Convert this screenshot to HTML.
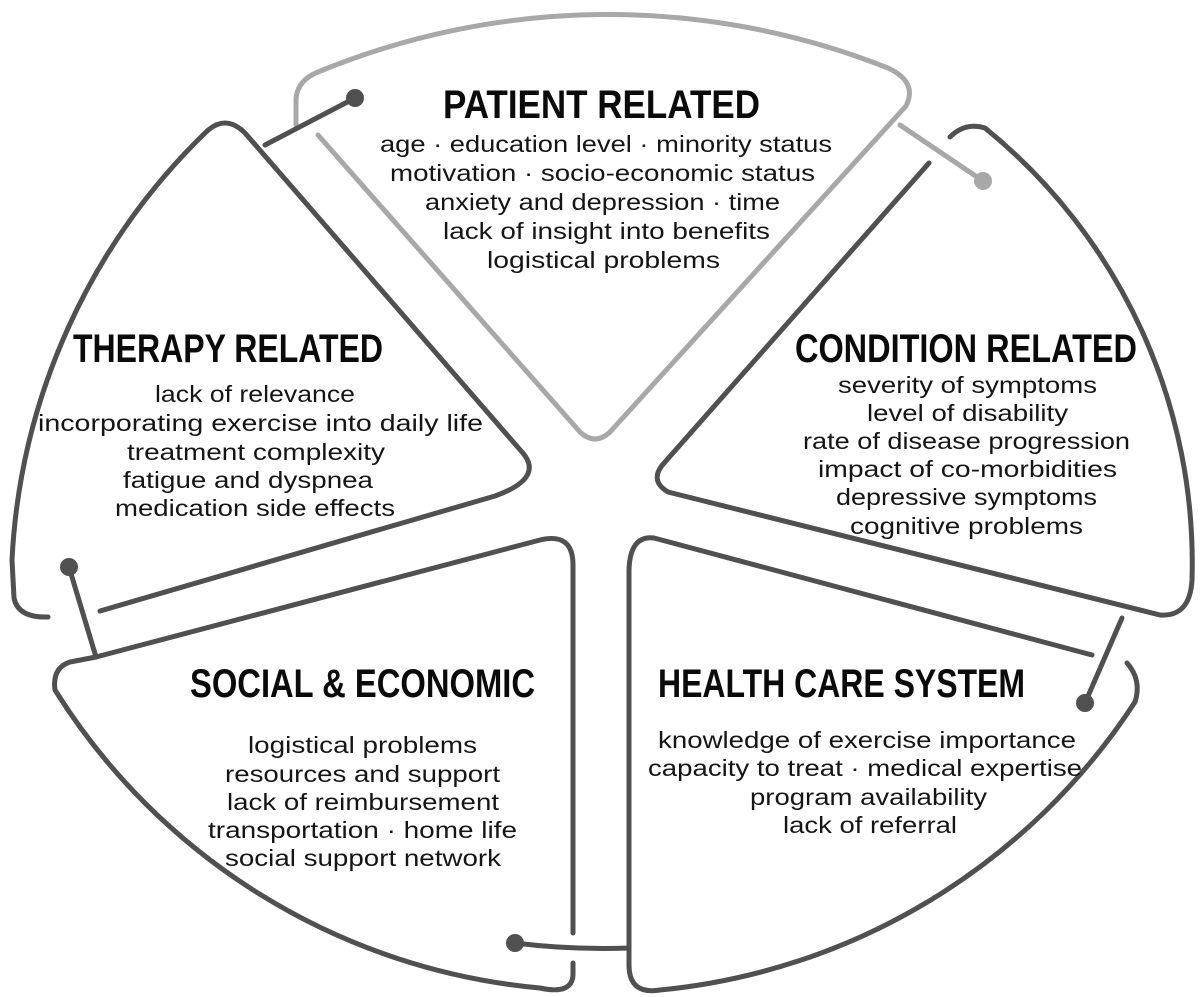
<!DOCTYPE html>
<html><head><meta charset="utf-8"><style>
html,body{margin:0;padding:0;background:#fff;}
svg{display:block}
.t{font-family:"Liberation Sans",sans-serif;font-weight:bold;font-size:40px;fill:#0a0a0a}
.b{font-family:"Liberation Sans",sans-serif;font-size:23px;fill:#151515}
</style></head><body>
<svg width="1200" height="997" viewBox="0 0 1200 997" xmlns="http://www.w3.org/2000/svg">
<g fill="none" stroke-linecap="round" stroke-linejoin="round">
<!-- patient -->
<path d="M296,125 L296,98 Q298,80 318,72 A 760 760 0 0 1 888,68 Q918,82 906,106 L610,432 Q595,446 580,432 L318,135" stroke="#a8a8a8" stroke-width="5"/>
<line x1="900" y1="125" x2="983" y2="181" stroke="#a8a8a8" stroke-width="5"/>
<circle cx="983" cy="181" r="9" fill="#a8a8a8" stroke="none"/>
<!-- therapy -->
<path d="M100,611 L495,496 Q545,478 522,452 L245,133 Q225,113 205,133 A 640 640 0 0 0 12,560 L14,598 Q18,618 48,617" stroke="#505050" stroke-width="5"/>
<line x1="265" y1="145" x2="355" y2="98" stroke="#505050" stroke-width="5"/>
<circle cx="355" cy="98" r="9" fill="#505050" stroke="none"/>
<line x1="69" y1="567" x2="96" y2="657" stroke="#505050" stroke-width="5"/>
<circle cx="69" cy="567" r="9" fill="#505050" stroke="none"/>
<!-- condition -->
<path d="M950,137 Q965,122 985,128 A 560 560 0 0 1 1192,580 Q1190,617 1160,615 L668,492 Q648,480 665,462 L929,163" stroke="#505050" stroke-width="5"/>
<line x1="1122" y1="618" x2="1085" y2="703" stroke="#505050" stroke-width="5"/>
<circle cx="1085" cy="703" r="9" fill="#505050" stroke="none"/>
<!-- social -->
<path d="M96,657 L540,540 Q573,532 573,565 L573,933 M573,963 L573,975 Q572,995 540,988 A 640 640 0 0 1 55,690 Q52,668 70,662 L96,657" stroke="#505050" stroke-width="5"/>
<path d="M515,943 Q570,950 629,948" stroke="#505050" stroke-width="5"/>
<circle cx="515" cy="943" r="9" fill="#505050" stroke="none"/>
<!-- health -->
<path d="M654,538 L1092,655 M1127,663 Q1142,680 1135,702 A 640 640 0 0 1 660,990 Q629,995 629,965 L629,570 Q630,535 654,538" stroke="#505050" stroke-width="5"/>
</g>

<text class="t" x="443" y="118" textLength="317" lengthAdjust="spacingAndGlyphs">PATIENT RELATED</text>
<text class="t" x="73" y="362" textLength="310" lengthAdjust="spacingAndGlyphs">THERAPY RELATED</text>
<text class="t" x="795" y="362" textLength="342" lengthAdjust="spacingAndGlyphs">CONDITION RELATED</text>
<text class="t" x="190" y="697" textLength="345" lengthAdjust="spacingAndGlyphs">SOCIAL &amp; ECONOMIC</text>
<text class="t" x="658" y="697" textLength="367" lengthAdjust="spacingAndGlyphs">HEALTH CARE SYSTEM</text>

<g class="b">
<text x="380" y="152" textLength="452" lengthAdjust="spacingAndGlyphs">age · education level · minority status</text>
<text x="390" y="181" textLength="425" lengthAdjust="spacingAndGlyphs">motivation · socio-economic status</text>
<text x="425" y="210" textLength="355" lengthAdjust="spacingAndGlyphs">anxiety and depression · time</text>
<text x="443" y="239" textLength="327" lengthAdjust="spacingAndGlyphs">lack of insight into benefits</text>
<text x="487" y="268" textLength="233" lengthAdjust="spacingAndGlyphs">logistical problems</text>

<text x="155" y="402" textLength="200" lengthAdjust="spacingAndGlyphs">lack of relevance</text>
<text x="38" y="431" textLength="445" lengthAdjust="spacingAndGlyphs">incorporating exercise into daily life</text>
<text x="127" y="460" textLength="258" lengthAdjust="spacingAndGlyphs">treatment complexity</text>
<text x="123" y="488" textLength="250" lengthAdjust="spacingAndGlyphs">fatigue and dyspnea</text>
<text x="115" y="516" textLength="280" lengthAdjust="spacingAndGlyphs">medication side effects</text>

<text x="838" y="393" textLength="259" lengthAdjust="spacingAndGlyphs">severity of symptoms</text>
<text x="867" y="421" textLength="201" lengthAdjust="spacingAndGlyphs">level of disability</text>
<text x="803" y="449" textLength="327" lengthAdjust="spacingAndGlyphs">rate of disease progression</text>
<text x="818" y="477" textLength="299" lengthAdjust="spacingAndGlyphs">impact of co-morbidities</text>
<text x="836" y="505" textLength="261" lengthAdjust="spacingAndGlyphs">depressive symptoms</text>
<text x="850" y="534" textLength="233" lengthAdjust="spacingAndGlyphs">cognitive problems</text>

<text x="248" y="753" textLength="229" lengthAdjust="spacingAndGlyphs">logistical problems</text>
<text x="225" y="782" textLength="275" lengthAdjust="spacingAndGlyphs">resources and support</text>
<text x="227" y="810" textLength="272" lengthAdjust="spacingAndGlyphs">lack of reimbursement</text>
<text x="208" y="838" textLength="309" lengthAdjust="spacingAndGlyphs">transportation · home life</text>
<text x="225" y="866" textLength="276" lengthAdjust="spacingAndGlyphs">social support network</text>

<text x="658" y="748" textLength="418" lengthAdjust="spacingAndGlyphs">knowledge of exercise importance</text>
<text x="648" y="776" textLength="434" lengthAdjust="spacingAndGlyphs">capacity to treat · medical expertise</text>
<text x="750" y="805" textLength="237" lengthAdjust="spacingAndGlyphs">program availability</text>
<text x="783" y="833" textLength="174" lengthAdjust="spacingAndGlyphs">lack of referral</text>
</g>
</svg>
</body></html>
